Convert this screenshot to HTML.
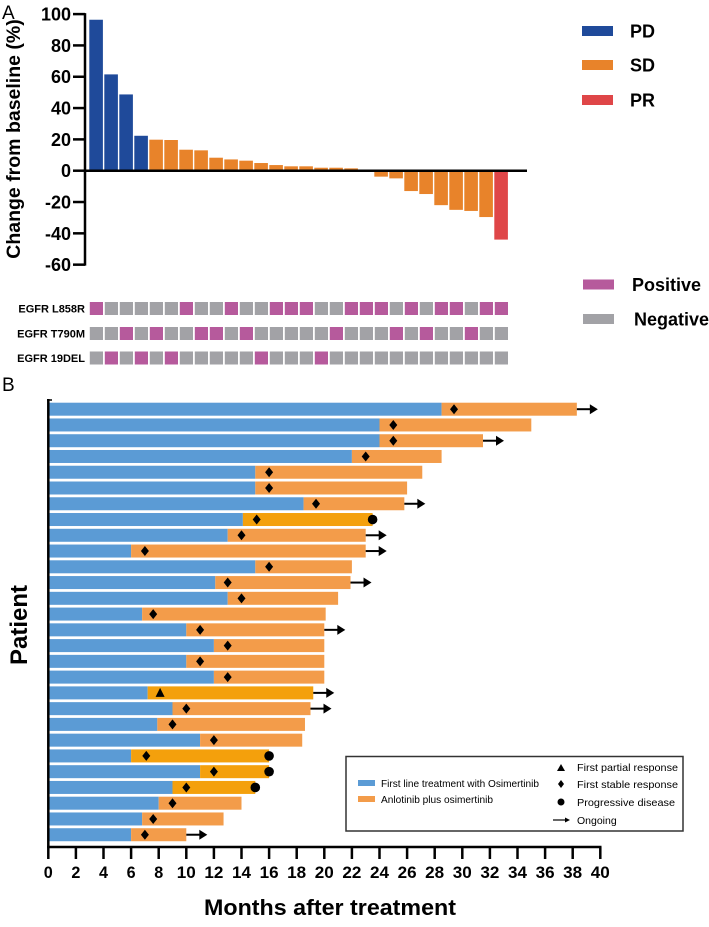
<!DOCTYPE html>
<html><head><meta charset="utf-8"><style>
html,body{margin:0;padding:0;background:#fff;}
svg{display:block;font-family:"Liberation Sans",Arial,sans-serif;}
</style></head><body>
<svg id="fig" width="709" height="927" viewBox="0 0 709 927" xmlns="http://www.w3.org/2000/svg">
<text x="2" y="19" font-size="19">A</text>
<text x="2" y="391" font-size="19">B</text>
<g id="pa"></g>
<g id="grid"></g>
<g id="pb"></g>
</svg>
<script>
// ---- Panel A data ----
const waterfallValues=[96.4,61.5,48.7,22.3,19.8,19.6,13.4,13,8.3,7.2,6.4,4.9,3.6,2.8,2.8,1.9,1.9,1.5,0,-3.8,-4.9,-13,-14.9,-22,-25,-25.7,-29.6,-44];
const waterfallResponse=["PD","PD","PD","PD","SD","SD","SD","SD","SD","SD","SD","SD","SD","SD","SD","SD","SD","SD","SD","SD","SD","SD","SD","SD","SD","SD","SD","PR"];
const yTicksA=[100,80,60,40,20,0,-20,-40,-60];
const mutationNames=["EGFR L858R","EGFR T790M","EGFR 19DEL"];
const mutL858R=[1,0,0,0,0,0,1,0,0,1,0,0,1,1,1,0,0,1,1,1,0,1,0,1,1,0,1,1];
const mutT790M=[0,0,1,0,1,0,0,1,1,0,1,0,0,0,0,0,1,0,0,0,1,0,1,0,0,1,0,0];
const mut19DEL=[0,1,0,1,0,1,0,0,0,0,0,1,0,0,0,1,0,0,0,0,0,0,0,0,0,0,0,0];
// ---- Panel B data ----
const osimertinibEnd=[28.5,24,24,22,15,15,18.5,14.1,13,6,15,12.1,13,6.8,10,12,10,12,7.2,9,7.9,11,6,11,9,8,6.8,6];
const combinedEnd=[38.3,35,31.5,28.5,27.1,26,25.8,23.5,23,23,22,21.9,21,20.1,20,20,20,20,19.2,19,18.6,18.4,16,16,15,14,12.7,10];
const firstResponse=[29.4,25,25,23,16,16,19.4,15.1,14,7,16,13,14,7.6,11,13,11,13,8.1,10,9,12,7.1,12,10,9,7.6,7];
const responseType=["S","S","S","S","S","S","S","S","S","S","S","S","S","S","S","S","S","S","P","S","S","S","S","S","S","S","S","S"];
const progressed=[0,0,0,0,0,0,0,1,0,0,0,0,0,0,0,0,0,0,0,0,0,0,1,1,1,0,0,0];
const ongoing=[1,0,1,0,0,0,1,0,1,1,0,1,0,0,1,0,0,0,1,1,0,0,0,0,0,0,0,1];
const xTicksB=[0,2,4,6,8,10,12,14,16,18,20,22,24,26,28,30,32,34,36,38,40];

const NS="http://www.w3.org/2000/svg";
function mk(parent,tag,attrs,text){const e=document.createElementNS(NS,tag);for(const k in attrs)e.setAttribute(k,attrs[k]);if(text!==undefined)e.textContent=text;parent.appendChild(e);return e;}
const C={PD:"#1f4a9a",SD:"#e8832a",PR:"#df4648"};

// Panel A
const pa=document.getElementById('pa');
const ay=v=>170.7-v*(156.6/100);
const ax=i=>89.3+i*15;
waterfallValues.forEach((v,i)=>{
  const y0=ay(Math.max(v,0)),h=Math.abs(ay(v)-ay(0));
  const r=mk(pa,'rect',{x:ax(i),y:y0,width:13.6,height:Math.max(h,0),fill:C[waterfallResponse[i]]});
  
  
});
let l=mk(pa,'line',{x1:85,y1:ay(0),x2:527,y2:ay(0),stroke:"#000","stroke-width":2.5});

l=mk(pa,'line',{x1:85,y1:ay(100)-1,x2:85,y2:ay(-60)+1,stroke:"#000","stroke-width":2.5});

yTicksA.forEach(t=>{
  mk(pa,'line',{x1:73,y1:ay(t),x2:85,y2:ay(t),stroke:"#000","stroke-width":2.5});
  const tx=mk(pa,'text',{x:71,y:ay(t)+6.5,"font-size":18,"font-weight":"bold","text-anchor":"end"},String(t));
  
});
let yt=mk(pa,'text',{x:0,y:0,"font-size":19.5,"font-weight":"bold","text-anchor":"middle",transform:"translate(20,139) rotate(-90)"},"Change from baseline (%)");

[["PD",31],["SD",65],["PR",100]].forEach(([k,y])=>{
  const g=mk(pa,'g',{});
  mk(g,'rect',{x:582,y:y-5,width:31,height:10,fill:C[k]});
  mk(g,'text',{x:630,y:y+6.5,"font-size":18,"font-weight":"bold"},k);
});

// Mutation grid
const grid=document.getElementById('grid');
const rowsY=[308.5,333.5,358];
[mutL858R,mutT790M,mut19DEL].forEach((row,r)=>{
  const lb=mk(grid,'text',{x:85,y:rowsY[r]+4,"font-size":11,"font-weight":"bold","text-anchor":"end"},mutationNames[r]);
  
  row.forEach((v,i)=>{
    const c=mk(grid,'rect',{x:ax(i)+0.5,y:rowsY[r]-6.5,width:13.2,height:13,fill:v?"#b65a9c":"#a2a2a6"});
    
  });
});
[["Positive",284.5,632,"#b65a9c"],["Negative",319,634,"#a2a2a6"]].forEach(([k,y,tx,col])=>{
  const g=mk(grid,'g',{});
  mk(g,'rect',{x:583,y:y-5,width:31,height:10,fill:col});
  mk(g,'text',{x:tx,y:y+6.5,"font-size":18,"font-weight":"bold"},k);
});

// Panel B
const pb=document.getElementById('pb');
const bx=m=>48.3+m*13.8;
const by=i=>402.7+i*15.76;
const BH=13;
function diamond(g,cx,cy){return mk(g,'path',{d:`M${cx},${cy-5}L${cx+4},${cy}L${cx},${cy+5}L${cx-4},${cy}Z`,fill:"#000"});}
function arrow(g,x,cy,len){mk(g,'line',{x1:x,y1:cy,x2:x+len-6,y2:cy,stroke:"#000","stroke-width":2});return mk(g,'path',{d:`M${x+len-8},${cy-5}L${x+len},${cy}L${x+len-8},${cy+5}Z`,fill:"#000"});}
osimertinibEnd.forEach((b,i)=>{
  const g=mk(pb,'g',{});
  
  
  const y=by(i),cy=y+BH/2;
  mk(g,'rect',{x:bx(0),y:y,width:bx(b)-bx(0),height:BH,fill:"#5b9bd5"});
  mk(g,'rect',{x:bx(b),y:y,width:bx(combinedEnd[i])-bx(b),height:BH,fill:progressed[i]||responseType[i]==="P"?"#f4a00c":"#f39c4a"});
  const fx=bx(firstResponse[i]);
  if(responseType[i]==="P") mk(g,'path',{d:`M${fx-4.5},${cy+4}L${fx},${cy-5}L${fx+4.5},${cy+4}Z`,fill:"#000"});
  else diamond(g,fx,cy);
  if(progressed[i]) mk(g,'circle',{cx:bx(combinedEnd[i]),cy:cy,r:4.8,fill:"#000"});
  if(ongoing[i]) arrow(g,bx(combinedEnd[i]),cy,21);
});
l=mk(pb,'line',{x1:48.3,y1:399,x2:48.3,y2:848,stroke:"#000","stroke-width":2.5});

mk(pb,'line',{x1:47,y1:400,x2:52,y2:400,stroke:"#000","stroke-width":1.5});
l=mk(pb,'line',{x1:47,y1:847,x2:bx(40)+1.2,y2:847,stroke:"#000","stroke-width":2.5});

xTicksB.forEach(t=>{
  mk(pb,'line',{x1:bx(t),y1:847,x2:bx(t),y2:859,stroke:"#000","stroke-width":2.5});
  const tx=mk(pb,'text',{x:bx(t),y:878,"font-size":17,"font-weight":"bold","text-anchor":"middle",textLength:t>=10?19:9,lengthAdjust:"spacingAndGlyphs"},String(t));
  
});
let xt=mk(pb,'text',{x:330,y:915,"font-size":22,"font-weight":"bold","text-anchor":"middle",textLength:252,lengthAdjust:"spacingAndGlyphs"},"Months after treatment");

let pt=mk(pb,'text',{x:0,y:0,"font-size":24,"font-weight":"bold","text-anchor":"middle",transform:"translate(27,625) rotate(-90)"},"Patient");


// Legend B
const lg=mk(pb,'g',{});


mk(lg,'rect',{x:346,y:756.5,width:337,height:74.5,fill:"#fff",stroke:"#333","stroke-width":1.5});
mk(lg,'rect',{x:358,y:780,width:17,height:6,fill:"#5b9bd5"});
mk(lg,'text',{x:381,y:787,"font-size":10.5,textLength:158,lengthAdjust:"spacingAndGlyphs"},"First line treatment with Osimertinib");
mk(lg,'rect',{x:358,y:796,width:17,height:6,fill:"#f39c4a"});
mk(lg,'text',{x:381,y:803,"font-size":10.5,textLength:112,lengthAdjust:"spacingAndGlyphs"},"Anlotinib plus osimertinib");
mk(lg,'path',{d:"M557,771L561,764L565,771Z",fill:"#000"});
mk(lg,'text',{x:577,y:771,"font-size":10.5,textLength:101,lengthAdjust:"spacingAndGlyphs"},"First partial response");
mk(lg,'path',{d:"M561,780L564,784L561,788L558,784Z",fill:"#000"});
mk(lg,'text',{x:577,y:788,"font-size":10.5,textLength:101,lengthAdjust:"spacingAndGlyphs"},"First stable response");
mk(lg,'circle',{cx:561,cy:802,r:3.5,fill:"#000"});
mk(lg,'text',{x:577,y:806,"font-size":10.5,textLength:98,lengthAdjust:"spacingAndGlyphs"},"Progressive disease");
mk(lg,'line',{x1:553,y1:820,x2:566,y2:820,stroke:"#000","stroke-width":1.2});
mk(lg,'path',{d:"M565,817.5L570,820L565,822.5Z",fill:"#000"});
mk(lg,'text',{x:577,y:824,"font-size":10.5},"Ongoing");
</script>
</body></html>
